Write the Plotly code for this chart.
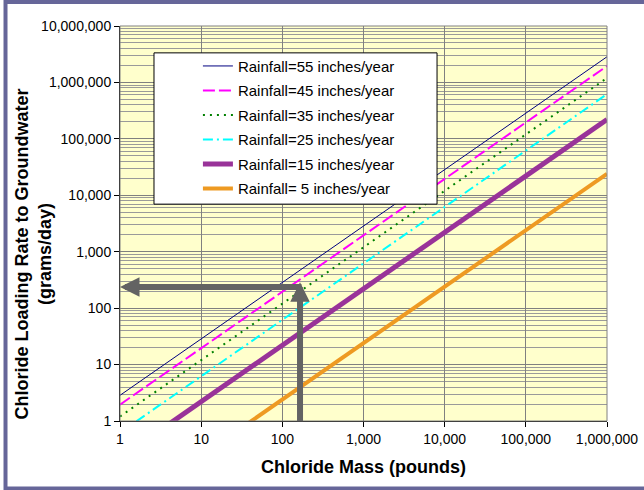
import plotly.graph_objects as go

# chloride mass (pounds) at each decade
mass = [1, 10, 100, 1000, 10000, 100000, 1000000]

# loading rate to groundwater (grams/day)
rain_55 = [2.85, 28.5, 285, 2850, 28500, 285000, 2850000]
rain_45 = [1.95, 19.5, 195, 1950, 19500, 195000, 1950000]
rain_35 = [1.2, 12, 120, 1200, 12000, 120000, 1200000]
rain_25 = [0.62, 6.2, 62, 620, 6200, 62000, 620000]
rain_15 = [0.22, 2.2, 22, 220, 2200, 22000, 220000]
rain_5 = [0.024, 0.24, 2.4, 24, 240, 2400, 24000]

names = ["Rainfall=55 inches/year", "Rainfall=45 inches/year",
         "Rainfall=35 inches/year", "Rainfall=25 inches/year",
         "Rainfall=15 inches/year", "Rainfall= 5 inches/year"]

styles = [
    dict(color="#000080", width=1, dash="solid"),
    dict(color="#FF00FF", width=2, dash="12px,4px"),
    dict(color="#008000", width=2, dash="2px,5px"),
    dict(color="#00FFFF", width=2, dash="10px,4px,2px,4px"),
    dict(color="#993399", width=5, dash="solid"),
    dict(color="#EE9A22", width=4, dash="solid"),
]

fig = go.Figure()
for i, (name, vals) in enumerate(zip(names, [rain_55, rain_45, rain_35, rain_25, rain_15, rain_5])):
    fig.add_trace(go.Scatter(x=mass, y=vals, mode="lines", name=name,
                             line=styles[i], legendgroup=str(i)))

# frame around the whole chart
fig.add_shape(type="rect", xref="paper", yref="paper",
              x0=-0.2351, x1=1.088, y0=-0.1709, y1=1.0608,
              line=dict(color="#666699", width=4))
# gray top/right border of plot area
fig.add_shape(type="rect", xref="paper", yref="paper", x0=0, x1=1, y0=0, y1=1,
              line=dict(color="#808080", width=1), layer="above")
# legend box
fig.add_shape(type="rect", xref="paper", yref="paper",
              x0=0.0698, x1=0.651, y0=0.549, y1=0.932,
              line=dict(color="black", width=1), fillcolor="white", layer="above")

# example read-off arrows (log10 units): ~165 lb -> ~238 g/day
gray = "#636363"
lx = 2.218
ly = 2.376
fig.add_annotation(x=0, y=ly, ax=2.2545, ay=ly, xref="x", yref="y", axref="x", ayref="y",
                   text="", showarrow=True, arrowhead=2, arrowsize=0.65,
                   arrowwidth=6, arrowcolor=gray)
fig.add_annotation(x=lx, y=2.46, ax=lx, ay=-0.03, xref="x", yref="y", axref="x", ayref="y",
                   text="", showarrow=True, arrowhead=2, arrowsize=0.65,
                   arrowwidth=6, arrowcolor=gray)

# axis titles
fig.add_annotation(text="<b>Chloride Loading Rate to Groundwater<br>(grams/day)</b>",
                   xref="paper", yref="paper", x=-0.1776, y=0.423, textangle=-90,
                   xanchor="center", yanchor="middle",
                   showarrow=False, font=dict(size=18, color="black"))
fig.add_annotation(text="<b>Chloride Mass (pounds)</b>", xref="paper", yref="paper",
                   x=0.5, y=-0.1165, xanchor="center", yanchor="middle",
                   showarrow=False, font=dict(size=18, color="black"))

fig.update_xaxes(type="log", range=[0, 6], dtick=1, tickformat=",d",
                 showgrid=True, gridcolor="#808080", gridwidth=1,
                 showline=True, linecolor="black", linewidth=1,
                 ticks="outside", ticklen=5, tickcolor="black", automargin=False,
                 tickfont=dict(size=14, color="black"), zeroline=False)
fig.update_yaxes(type="log", range=[0, 7], dtick=1, tickformat=",d",
                 showgrid=True, gridcolor="#808080", gridwidth=1,
                 minor=dict(dtick="D1", showgrid=True, gridcolor="#9a9a9a", gridwidth=1),
                 showline=True, linecolor="black", linewidth=1,
                 ticks="outside", ticklen=5, tickcolor="black", automargin=False,
                 tickfont=dict(size=14, color="black"), zeroline=False)

fig.update_layout(
    width=644, height=490,
    margin=dict(l=120, r=37, t=26, b=69),
    paper_bgcolor="white", plot_bgcolor="#FFFFCC",
    font=dict(family="Arial, 'Liberation Sans', sans-serif", color="black"),
    legend=dict(x=0.16, y=0.94, xanchor="left", yanchor="top",
                bgcolor="rgba(0,0,0,0)", borderwidth=0,
                font=dict(size=15, color="black"),
                traceorder="grouped", tracegroupgap=2),
)

# drop the browser's default page margin so the chart sits at the top-left corner
fig.write_html("out.html", config={"displayModeBar": False},
               post_script="document.body.style.margin='0';")
